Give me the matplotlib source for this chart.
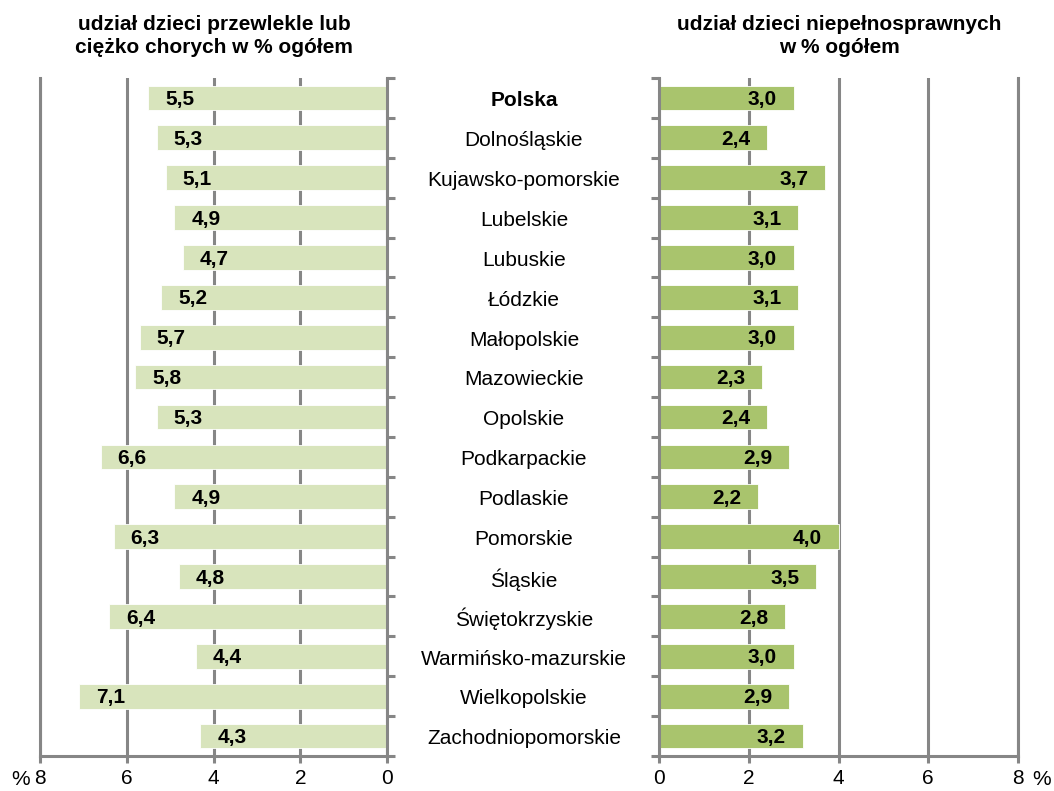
#!/usr/bin/env python3
"""Share of chronically ill and disabled children by voivodeship (butterfly bar chart)."""

from __future__ import annotations

import matplotlib

matplotlib.use("Agg")
import matplotlib.pyplot as plt
import matplotlib.transforms as mtransforms

regions = [
    "Polska", "Dolnośląskie", "Kujawsko-pomorskie", "Lubelskie", "Lubuskie",
    "Łódzkie", "Małopolskie", "Mazowieckie", "Opolskie", "Podkarpackie",
    "Podlaskie", "Pomorskie", "Śląskie", "Świętokrzyskie",
    "Warmińsko-mazurskie", "Wielkopolskie", "Zachodniopomorskie",
]
chronic = [5.5, 5.3, 5.1, 4.9, 4.7, 5.2, 5.7, 5.8, 5.3, 6.6, 4.9, 6.3, 4.8, 6.4, 4.4, 7.1, 4.3]
disabled = [3.0, 2.4, 3.7, 3.1, 3.0, 3.1, 3.0, 2.3, 2.4, 2.9, 2.2, 4.0, 3.5, 2.8, 3.0, 2.9, 3.2]
x_ticks = [0, 2, 4, 6, 8]
title_left = "udział dzieci przewlekle lub\nciężko chorych w % ogółem"
title_right = "udział dzieci niepełnosprawnych\nw % ogółem"

GRID = "#868686"
LIGHT = "#D8E4BC"
DARK = "#A9C46D"
W, H = 1054, 791


def style_axis(ax, spine_side: str) -> None:
    n = len(regions)
    ax.set_ylim(n - 0.5, -0.5)
    ax.set_yticks([i - 0.5 for i in range(n + 1)])
    ax.set_yticklabels([])
    ax.set_xticks(x_ticks)
    ax.set_xticklabels([str(t) for t in x_ticks])
    ax.grid(axis="x", color=GRID, linewidth=2.2)
    ax.set_axisbelow(True)
    ax.spines["top"].set_visible(False)
    for side in ("left", "right", "bottom"):
        ax.spines[side].set_color(GRID)
        ax.spines[side].set_linewidth(2.2)
    if spine_side == "right":
        ax.yaxis.tick_right()
    else:
        ax.yaxis.tick_left()
    ax.tick_params(axis="y", direction="out", length=6, width=2.2, color=GRID)
    ax.tick_params(axis="x", direction="out", length=5, width=2.2, color=GRID,
                   labelsize=15, pad=4)


def main() -> None:
    plt.rcParams["font.family"] = ["Liberation Sans", "DejaVu Sans"]
    fig = plt.figure(figsize=(W / 100, H / 100), dpi=100)

    top, bottom = 78, 756
    ax_l = fig.add_axes([40 / W, 1 - bottom / H, 347 / W, (bottom - top) / H])
    ax_r = fig.add_axes([659 / W, 1 - bottom / H, 359 / W, (bottom - top) / H])

    ypos = list(range(len(regions)))
    bar_h = 0.62

    ax_l.barh(ypos, chronic, height=bar_h, color=LIGHT, edgecolor="white", linewidth=0.6)
    ax_l.set_xlim(8, 0)
    style_axis(ax_l, "right")

    ax_r.barh(ypos, disabled, height=bar_h, color=DARK, edgecolor="white", linewidth=0.6)
    ax_r.set_xlim(0, 8)
    style_axis(ax_r, "left")

    for y, v in zip(ypos, chronic):
        ax_l.annotate(f"{v:.1f}".replace(".", ","), xy=(v, y + 0.04), xytext=(12, 0),
                      textcoords="offset points", ha="left", va="center",
                      fontsize=15, fontweight="bold")
    for y, v in zip(ypos, disabled):
        ax_r.annotate(f"{v:.1f}".replace(".", ","), xy=(v, y + 0.04), xytext=(-12, 0),
                      textcoords="offset points", ha="right", va="center",
                      fontsize=15, fontweight="bold")

    # "%" next to the outer tick labels
    ax_l.annotate("%", xy=(8, 0), xycoords=("data", "axes fraction"), xytext=(-7, -10),
                  textcoords="offset points", ha="right", va="top", fontsize=15)
    ax_r.annotate("%", xy=(8, 0), xycoords=("data", "axes fraction"), xytext=(10, -10),
                  textcoords="offset points", ha="left", va="top", fontsize=15)

    # region names between the panels
    trans = mtransforms.blended_transform_factory(fig.transFigure, ax_l.transData)
    for y, name in zip(ypos, regions):
        ax_l.text(524 / W, y + 0.07, name, transform=trans, ha="center", va="center",
                  fontsize=15, fontweight="bold" if name == "Polska" else "normal",
                  clip_on=False)

    fig.text(214 / W, 1 - 36 / H, title_left, ha="center", va="center",
             fontsize=15, fontweight="bold", linespacing=1.25)
    fig.text(839 / W, 1 - 36 / H, title_right, ha="center", va="center",
             fontsize=15, fontweight="bold", linespacing=1.25)

    fig.savefig("out.png", dpi=100)


if __name__ == "__main__":
    main()
